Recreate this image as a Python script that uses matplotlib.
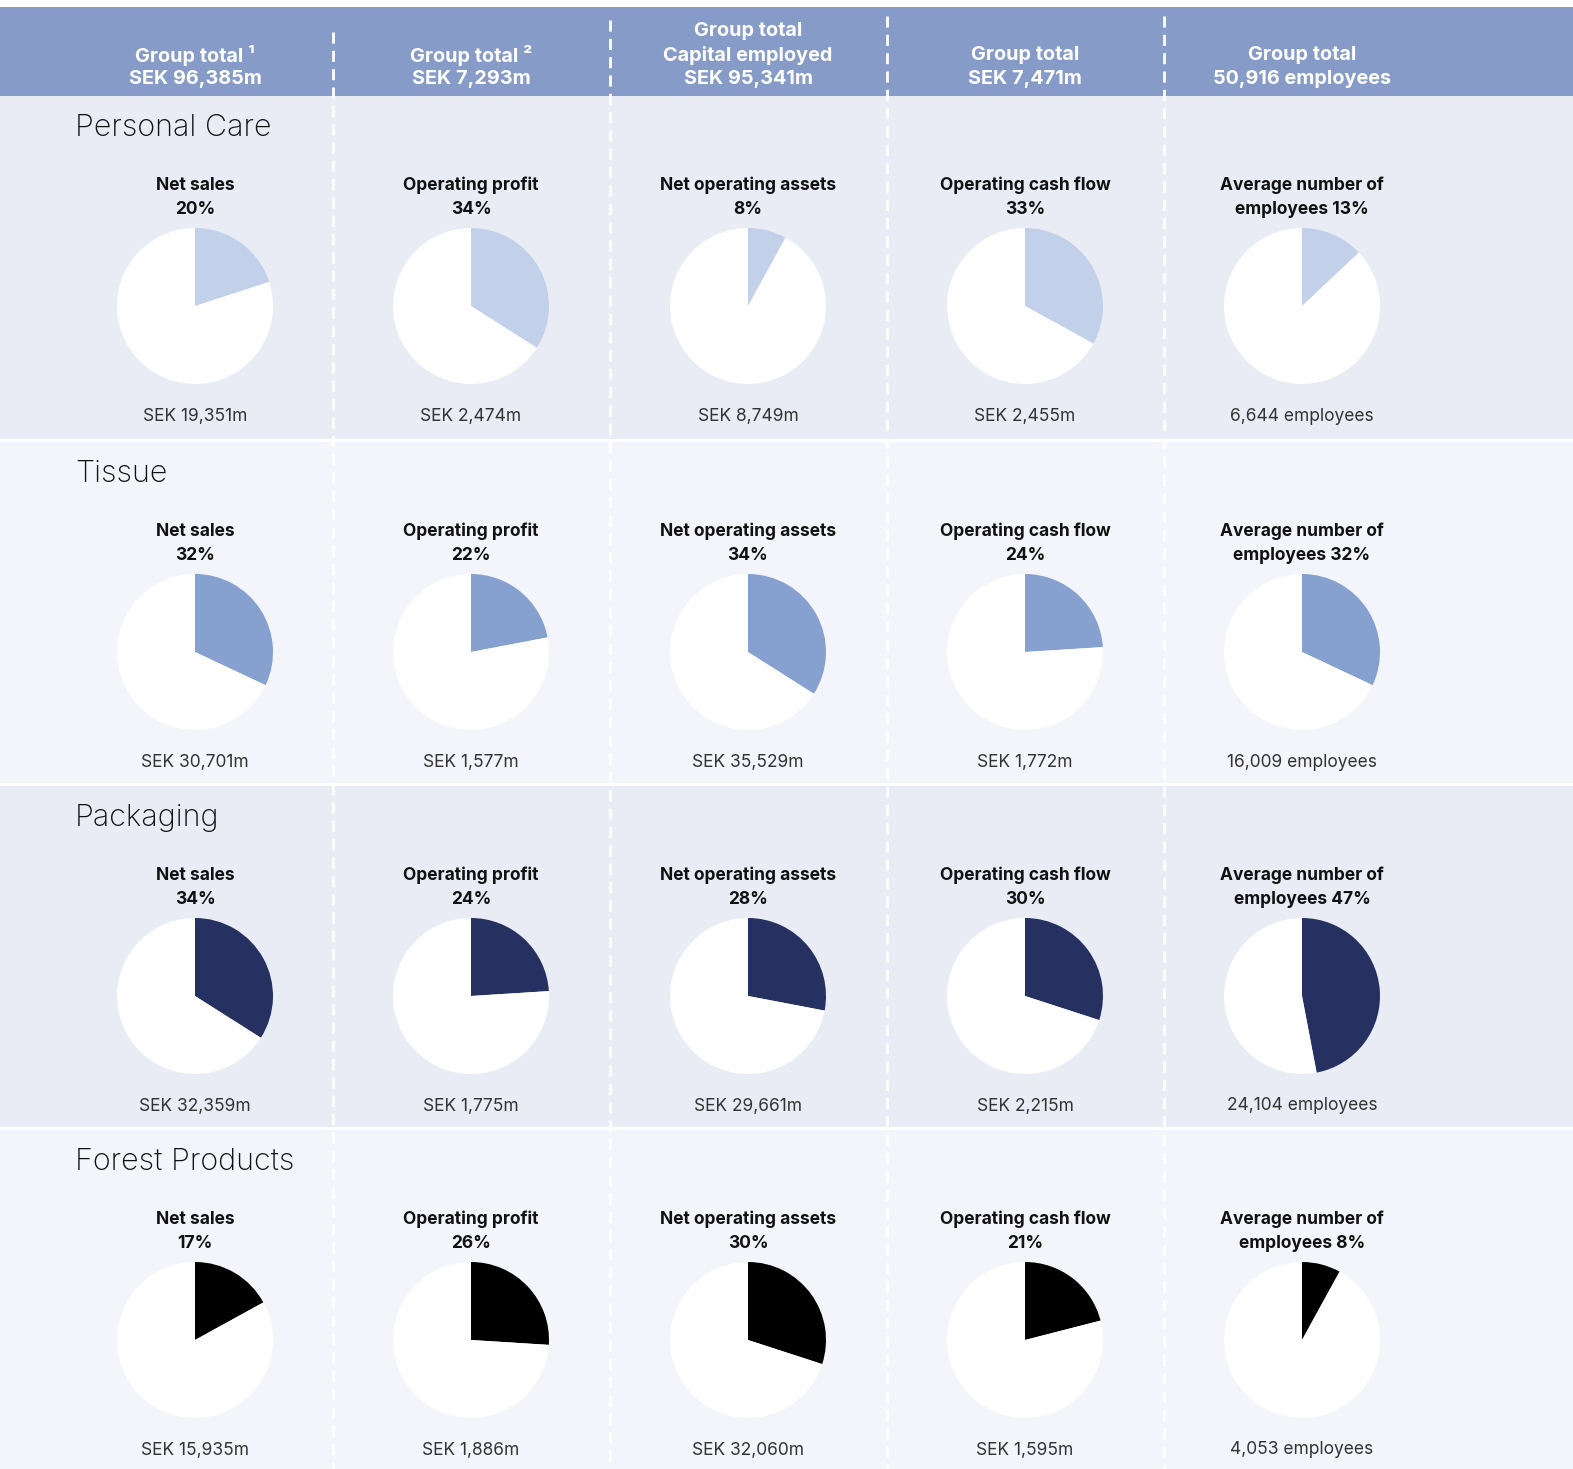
import matplotlib
matplotlib.use("Agg")
import matplotlib.pyplot as plt
from matplotlib.patches import Rectangle
from matplotlib import font_manager

# ---------------- data ----------------
segments = ["Personal Care", "Tissue", "Packaging", "Forest Products"]
metrics = ["Net sales", "Operating profit", "Net operating assets",
           "Operating cash flow", "Average number of"]
header_lines = [
    ["Group total \u00b9", "SEK 96,385m"],
    ["Group total \u00b2", "SEK 7,293m"],
    ["Group total", "Capital employed", "SEK 95,341m"],
    ["Group total", "SEK 7,471m"],
    ["Group total", "50,916 employees"],
]
pct_personal_care = [20, 34, 8, 33, 13]
pct_tissue = [32, 22, 34, 24, 32]
pct_packaging = [34, 24, 28, 30, 47]
pct_forest = [17, 26, 30, 21, 8]
val_personal_care = ["SEK 19,351m", "SEK 2,474m", "SEK 8,749m", "SEK 2,455m", "6,644 employees"]
val_tissue = ["SEK 30,701m", "SEK 1,577m", "SEK 35,529m", "SEK 1,772m", "16,009 employees"]
val_packaging = ["SEK 32,359m", "SEK 1,775m", "SEK 29,661m", "SEK 2,215m", "24,104 employees"]
val_forest = ["SEK 15,935m", "SEK 1,886m", "SEK 32,060m", "SEK 1,595m", "4,053 employees"]

pcts = [pct_personal_care, pct_tissue, pct_packaging, pct_forest]
vals = [val_personal_care, val_tissue, val_packaging, val_forest]

# ---------------- style ----------------
seg_colors = ["#C3D0EA", "#86A0D0", "#263162", "#000000"]
row_bg = ["#E9ECF5", "#F4F5FA", "#E9ECF5", "#F4F5FA"]
header_color = "#869BC7"

avail = {f.name for f in font_manager.fontManager.ttflist}
FONT = "Inter" if "Inter" in avail else "Liberation Sans"
plt.rcParams["font.family"] = [FONT, "DejaVu Sans"]

W, H = 1573, 1469
fig = plt.figure(figsize=(W / 100, H / 100), dpi=100)
ax = fig.add_axes([0, 0, 1, 1])


def Y(y):
    return H - y


# header band
ax.add_patch(Rectangle((0, Y(96)), W, 89, color=header_color, lw=0, zorder=1))
# rows
row_tops = [96, 442, 786, 1130]
row_bots = [439, 783, 1127, H]
for i in range(4):
    ax.add_patch(Rectangle((0, Y(row_bots[i])), W, row_bots[i] - row_tops[i],
                           color=row_bg[i], lw=0, zorder=1))

col_centers = [195, 471, 748, 1025, 1302]
col_edges = [333, 610, 887, 1164]
dash_start = [32, 20, 16, 16]
for x, ys in zip(col_edges, dash_start):
    ax.plot([x, x], [Y(ys), Y(H)], color="white", lw=2.0,
            dashes=(4, 2.6), zorder=2, solid_capstyle="butt")

# header text
for c, lines in enumerate(header_lines):
    n = len(lines)
    for k, t in enumerate(lines):
        yy = 79 - 24 * (n - 1 - k)
        ax.text(col_centers[c], Y(yy), t, ha="center", va="center",
                color="white", fontsize=14.3, fontweight="bold", zorder=3)

R = 78
for r in range(4):
    top = row_tops[r]
    ax.text(75, Y(top + 32), segments[r], ha="left", va="center",
            fontsize=22, fontweight="light", color="#111111", zorder=3)
    for c in range(5):
        p = pcts[r][c]
        if c == 4:
            l1, l2 = metrics[c], f"employees {p}%"
        else:
            l1, l2 = metrics[c], f"{p}%"
        ax.text(col_centers[c], Y(top + 89), l1, ha="center", va="center",
                fontsize=12.5, fontweight="bold", color="#111111", zorder=3)
        ax.text(col_centers[c], Y(top + 113), l2, ha="center", va="center",
                fontsize=12.5, fontweight="bold", color="#111111", zorder=3)
        ax.pie([p, 100 - p], colors=[seg_colors[r], "white"],
               startangle=90, counterclock=False, radius=R,
               center=(col_centers[c], Y(top + 210)), frame=True,
               wedgeprops=dict(linewidth=0, zorder=3))
        ax.text(col_centers[c], Y(top + 320), vals[r][c], ha="center", va="center",
                fontsize=12.5, color="#333333", zorder=3)

ax.set_xlim(0, W)
ax.set_ylim(0, H)
ax.set_aspect("auto")
ax.axis("off")
fig.savefig("out.png", dpi=100, facecolor="white")
